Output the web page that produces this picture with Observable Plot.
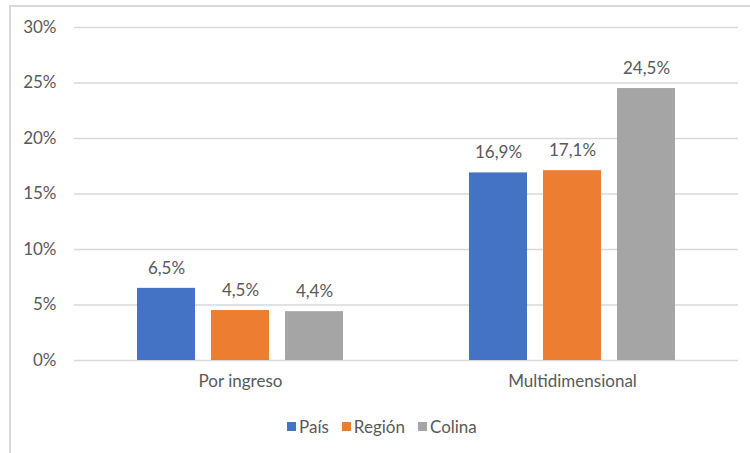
<!DOCTYPE html>
<html>
<head>
<meta charset="utf-8">
<script src="https://cdn.jsdelivr.net/npm/d3@7"></script>
<script src="https://cdn.jsdelivr.net/npm/@observablehq/plot@0.6"></script>
<style>
  body { margin: 0; background: #fff; font-family: Lato, "Open Sans", sans-serif; }
  #frame { position: absolute; left: 9px; top: 5px; width: 800px; height: 500px;
           border-left: 2px solid #d9d9d9; border-top: 2px solid #d9d9d9; }
  #chart { position: absolute; left: 0; top: 0; }
  #legend { position: absolute; left: 287px; top: 416px; display: flex; align-items: center;
            font-size: 17px; color: #595959; white-space: nowrap; }
  #legend .item { display: flex; align-items: center; margin-right: 13px; }
  #legend .sw { width: 9px; height: 9px; margin-right: 3px; }
</style>
</head>
<body>
<div id="frame"></div>
<div id="chart"></div>
<div id="legend"></div>
<script>
// Pobreza por ingreso y multidimensional (%), por territorio
const grupos = ["Por ingreso", "Multidimensional"];
const series = ["País", "Región", "Colina"];
const colores = ["#4472C4", "#ED7D31", "#A5A5A5"];
const porIngreso = [6.5, 4.5, 4.4];
const multidimensional = [16.9, 17.1, 24.5];
const yTicks = [0, 5, 10, 15, 20, 25, 30];

const valores = [porIngreso, multidimensional];
const datos = grupos.flatMap((g, i) =>
  series.map((s, j) => ({grupo: g, serie: s, valor: valores[i][j]}))
);

const fmt = v => v.toFixed(1).replace(".", ",") + "%";
const font = "Lato, 'Open Sans', sans-serif";

const chart = Plot.plot({
  width: 750,
  height: 400,
  marginLeft: 74,
  marginRight: 12,
  marginTop: 27,
  marginBottom: 40,
  style: {fontSize: "17px", fontFamily: font, color: "#595959", background: "transparent"},
  fx: {domain: grupos, padding: 0, label: null, tickSize: 0, tickPadding: 14},
  x: {domain: series, paddingInner: 0.216, paddingOuter: 0.85, axis: null},
  y: {domain: [0, 30], ticks: yTicks, tickFormat: d => d + "%", tickSize: 0, tickPadding: 18, label: null},
  color: {domain: series, range: colores},
  marks: [
    Plot.ruleY(yTicks, {stroke: "#d9d9d9", strokeWidth: 1.5}),
    Plot.barY(datos, {fx: "grupo", x: "serie", y: "valor", fill: "serie"}),
    Plot.text(datos, {fx: "grupo", x: "serie", y: "valor", text: d => fmt(d.valor),
      dy: -20, lineAnchor: "middle", fill: "#595959", fontSize: 17})
  ]
});
document.getElementById("chart").appendChild(chart);

const legend = document.getElementById("legend");
series.forEach((s, i) => {
  const item = document.createElement("div");
  item.className = "item";
  const sw = document.createElement("div");
  sw.className = "sw";
  sw.style.background = colores[i];
  const lab = document.createElement("span");
  lab.textContent = s;
  item.appendChild(sw);
  item.appendChild(lab);
  legend.appendChild(item);
});
</script>
</body>
</html>
